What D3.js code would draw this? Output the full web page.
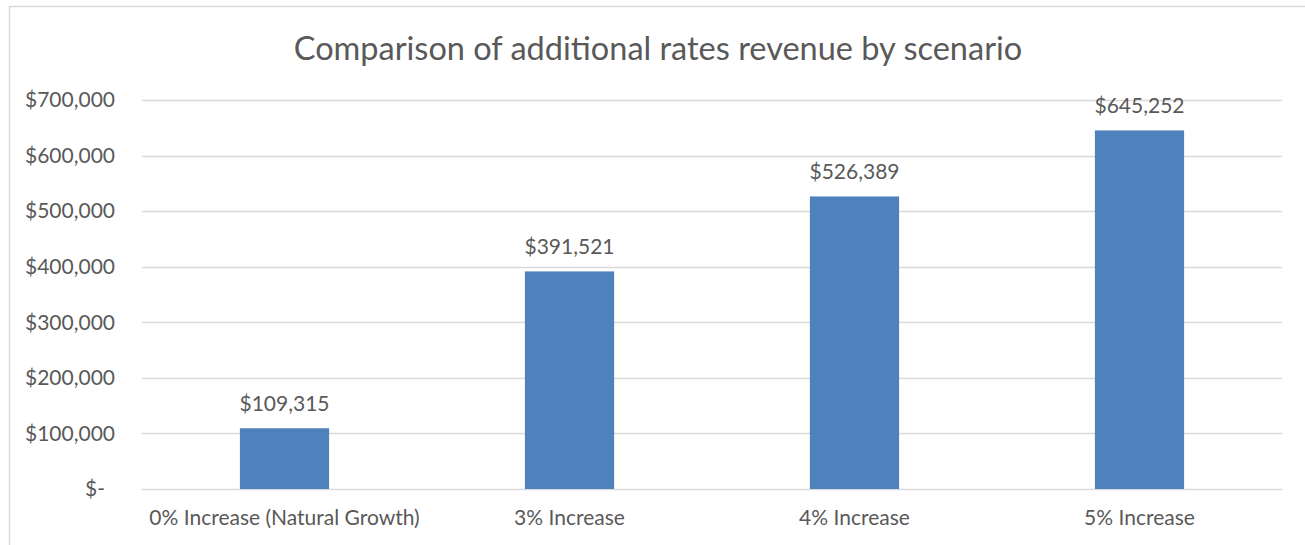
<!DOCTYPE html>
<html>
<head>
<meta charset="utf-8">
<script src="https://cdn.jsdelivr.net/npm/d3@7"></script>
<style>
  body { margin: 0; background: #fff; }
  svg { font-family: Lato, "Open Sans", sans-serif; }
</style>
</head>
<body>
<svg id="chart" width="1305" height="545"></svg>
<script>
// data
var scenarios = ["0% Increase (Natural Growth)", "3% Increase", "4% Increase", "5% Increase"];
var revenue = [109315, 391521, 526389, 645252];
var yTicks = [0, 100000, 200000, 300000, 400000, 500000, 600000, 700000];
var title = "Comparison of additional rates revenue by scenario";

var svg = d3.select("#chart");
var textColor = "#595959";
var gridColor = "#d9d9d9";
var barColor = "#4f81bd";

// plot area (pixel bounds)
var plotLeft = 142, plotRight = 1282, plotTop = 100, plotBottom = 489;

// chart border
svg.append("rect")
  .attr("x", 9.5).attr("y", 6.5)
  .attr("width", 1310).attr("height", 560)
  .attr("fill", "none")
  .attr("stroke", gridColor)
  .attr("stroke-width", 1.5);

var x = d3.scaleBand().domain(scenarios).range([plotLeft, plotRight]).paddingInner(0.687).paddingOuter(0.3435);
var y = d3.scaleLinear().domain([0, 700000]).range([plotBottom, plotTop]);

var money = d3.format("$,.0f");

// gridlines
svg.append("g").selectAll("line")
  .data(yTicks)
  .enter().append("line")
  .attr("x1", plotLeft).attr("x2", plotRight)
  .attr("y1", function(d){return Math.round(y(d)) + 0.5})
  .attr("y2", function(d){return Math.round(y(d)) + 0.5})
  .attr("stroke", gridColor)
  .attr("stroke-width", 1.5);

// y axis labels
var yAxis = d3.axisLeft(y)
  .tickValues(yTicks)
  .tickSize(0)
  .tickPadding(27)
  .tickFormat(function(d){return d === 0 ? "$-" : money(d)});
var ya = svg.append("g").attr("transform", "translate(" + plotLeft + ",0)").call(yAxis);
ya.select(".domain").remove();
ya.selectAll("text")
  .attr("fill", textColor)
  .style("font-size", "21px")
  .style("font-family", "Lato, sans-serif")
  .attr("dx", function(d){return d === 0 ? -10 : 0});

// bars
svg.append("g").selectAll("rect")
  .data(revenue)
  .enter().append("rect")
  .attr("x", function(d, i){return x(scenarios[i])})
  .attr("y", function(d){return y(d)})
  .attr("width", x.bandwidth())
  .attr("height", function(d){return plotBottom - y(d)})
  .attr("fill", barColor);

// data labels
svg.append("g").selectAll("text")
  .data(revenue)
  .enter().append("text")
  .attr("x", function(d, i){return x(scenarios[i]) + x.bandwidth() / 2})
  .attr("y", function(d){return y(d) - 17})
  .attr("text-anchor", "middle")
  .attr("fill", textColor)
  .style("font-size", "21px")
  .text(function(d){return money(d)});

// x axis labels
var xAxis = d3.axisBottom(x).tickSize(0).tickPadding(21);
var xa = svg.append("g").attr("transform", "translate(0," + plotBottom + ")").call(xAxis);
xa.select(".domain").remove();
xa.selectAll("text")
  .attr("fill", textColor)
  .style("font-size", "21px")
  .style("font-family", "Lato, sans-serif");

// title
svg.append("text")
  .attr("x", 658)
  .attr("y", 60)
  .attr("text-anchor", "middle")
  .attr("fill", textColor)
  .style("font-size", "32.5px")
  .text(title);
</script>
</body>
</html>
